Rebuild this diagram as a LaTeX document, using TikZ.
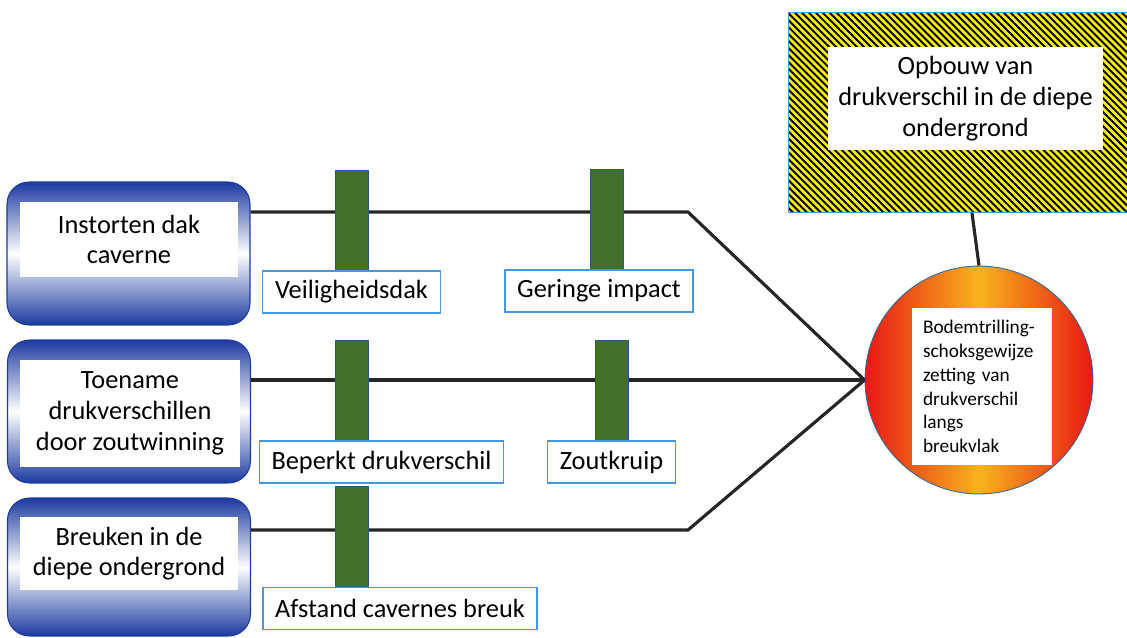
\documentclass[tikz,border=0pt]{standalone}
\usepackage{fontspec}
\setmainfont{Carlito}
\usetikzlibrary{positioning,patterns.meta}
\definecolor{kastblauw}{RGB}{28,58,160}
\definecolor{randblauw}{RGB}{70,150,225}
\definecolor{balkgroen}{RGB}{66,112,40}
\definecolor{geel}{RGB}{250,240,0}
\definecolor{hartrood}{RGB}{232,24,20}
\definecolor{hartgeel}{RGB}{248,180,28}
\begin{document}
\begin{tikzpicture}[x=0.02cm,y=-0.02cm,
	oorzaak/.style={draw=kastblauw,line width=0.6pt,rounded corners=0.44cm,minimum width=4.86cm,top color=kastblauw,bottom color=kastblauw,middle color=white},
	binnen/.style={fill=white,align=center,font=\fontsize{15}{17.5}\selectfont,inner sep=0pt},
	balk/.style={draw=randblauw!60!black,line width=0.4pt,fill=balkgroen,minimum width=0.66cm,minimum height=2cm,inner sep=0pt},
	maatregel/.style={draw=randblauw,line width=0.8pt,fill=white,font=\fontsize{15}{17.5}\selectfont,inner xsep=7pt,minimum height=0.84cm},
	lijn/.style={line width=1.8pt,black!85}]
		\useasboundingbox (0,0) rectangle (1127,637);
		% oorzaken links
		\node[oorzaak,minimum height=2.86cm] (oorzaak1) at (128.5,253.5) {};
		\node[binnen,minimum width=4.36cm,minimum height=1.5cm] (tekst1) at (129,239.5) {Instorten dak\\caverne};
		\node[oorzaak,minimum height=2.86cm] (oorzaak2) at (129,411.5) {};
		\node[binnen,minimum width=4.4cm,minimum height=2.14cm] (tekst2) at (130,413.5) {Toename\\drukverschillen\\door zoutwinning};
		\node[oorzaak,minimum height=2.76cm] (oorzaak3) at (129,567) {};
		\node[binnen,minimum width=4.36cm,minimum height=1.46cm] (tekst3) at (129,553.5) {Breuken in de\\diepe ondergrond};
		% gevolg
		\node[circle,draw=randblauw!70!black,line width=0.5pt,minimum size=4.56cm,left color=hartrood,right color=hartrood,middle color=hartgeel] (hart) at (979,380) {};
		\node[fill=white,text width=2.36cm,inner xsep=0.22cm,minimum height=3.14cm,align=left,font=\fontsize{11}{13.6}\selectfont] (hartTekst) at (982,386.5) {Bodemtrilling-\\schoksgewijze\\zetting van\\drukverschil\\langs\\breukvlak};
		\node[draw=randblauw,line width=0.5pt,minimum width=6.78cm,minimum height=4cm,preaction={fill=geel},pattern={Lines[angle=-45,distance=2.8pt,line width=1.1pt]},pattern color=black] (opbouw) at (957.5,112) {};
		\node[binnen,minimum width=5.5cm,minimum height=2.06cm] (opbouwTekst) at (965.5,98.5) {Opbouw van\\drukverschil in de diepe\\ondergrond};
		% verbindingen
		\coordinate (knik1) at (688,212);
		\coordinate (knik3) at (688,530);
		\draw[lijn] (oorzaak1.east |- knik1) -- (knik1) -- (hart.west);
		\draw[lijn] (oorzaak2.east |- hart.west) -- (hart.west);
		\draw[lijn] (oorzaak3.east |- knik3) -- (knik3) -- (hart.west);
		\draw[lijn] ([xshift=0.29cm]opbouw.south) -- (hart.north);
		% barrieres
		\node[balk] (balk11) at (351.5,220) {};
		\node[balk] (balk12) at (606.5,219) {};
		\node[balk] (balk21) at (351.5,390) {};
		\node[balk] (balk22) at (611.5,390) {};
		\node[balk] (balk31) at (351.5,536.5) {};
		\node[maatregel,below=0pt of balk11] (veilig) {Veiligheidsdak};
		\node[maatregel,below=0pt of balk12,xshift=-0.15cm] (impact) {Geringe impact};
		\node[maatregel,below=0pt of balk21,xshift=0.6cm] (beperkt) {Beperkt drukverschil};
		\node[maatregel,below=0pt of balk22] (kruip) {Zoutkruip};
		\node[maatregel,below=0pt of balk31,xshift=0.97cm] (afstand) {Afstand cavernes breuk};
\end{tikzpicture}
\end{document}
